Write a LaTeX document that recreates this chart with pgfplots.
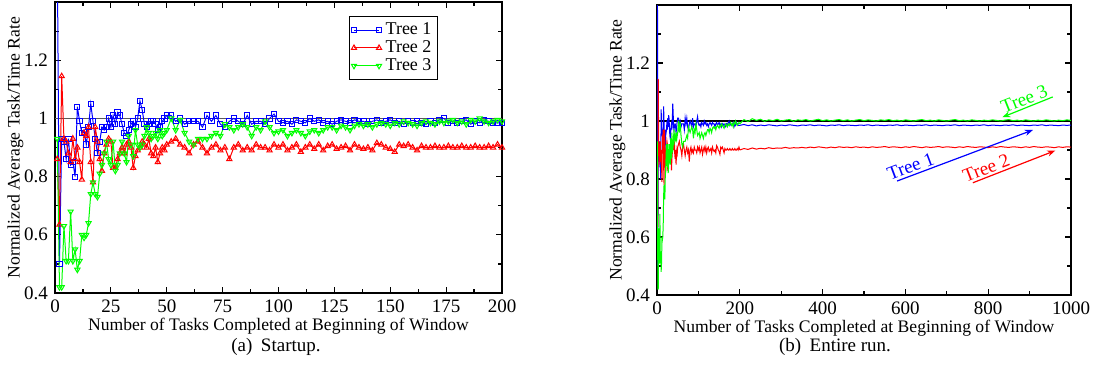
\documentclass[border=0pt]{standalone}
\usepackage{fontspec}
\setmainfont{Liberation Serif}
\usepackage{pgfplots}
\usepackage{pgfplotstable}
\pgfplotsset{compat=1.18}
\usetikzlibrary{arrows.meta}

\pgfplotstableread{
x y
1 1.60
2 0.50
3 0.93
4 0.92
5 0.86
6 0.93
7 0.84
8 0.85
9 0.80
10 1.04
11 0.99
12 0.95
13 0.96
14 0.91
15 0.97
16 1.05
17 0.99
18 0.93
19 0.88
20 0.92
21 0.97
22 0.96
23 0.97
24 1.00
25 0.97
26 1.01
27 0.98
28 1.02
29 1.01
30 0.98
31 0.95
32 0.94
33 0.96
34 0.98
35 0.99
36 0.97
37 1.00
38 1.06
39 1.03
40 0.98
41 0.97
42 0.98
43 0.99
44 0.99
45 0.98
46 0.96
47 0.97
48 0.99
49 1.00
50 1.01
52 1.01
54 0.99
56 1.00
58 0.98
60 0.99
62 0.99
64 0.99
66 0.97
68 1.01
70 0.99
72 1.01
74 0.98
76 0.97
78 0.99
80 1.00
82 0.99
84 0.98
86 1.01
88 0.98
90 0.99
92 0.99
94 0.98
96 1.00
98 1.015
100 0.99
102 0.985
104 0.99
106 0.98
108 0.995
110 0.99
112 0.985
114 1.00
116 0.99
118 0.995
120 0.985
122 0.99
124 0.98
126 0.99
128 0.995
130 0.99
132 0.985
134 0.995
136 0.99
138 0.99
140 0.98
142 0.99
144 0.995
146 0.985
148 0.99
150 0.995
152 0.985
154 0.99
156 0.98
158 0.99
160 0.985
162 0.99
164 0.985
166 0.98
168 0.99
170 0.985
172 0.995
174 1.00
176 0.985
178 0.99
180 0.985
182 0.99
184 0.995
186 0.98
188 0.99
190 0.985
192 0.995
194 0.99
196 0.985
198 0.985
200 0.985
}\treeA

\pgfplotstableread{
x y
1 0.86
2 0.635
3 1.145
4 0.93
5 0.92
6 0.88
7 0.85
8 0.93
9 0.86
10 0.90
11 0.85
12 0.79
13 0.95
14 0.94
15 0.97
16 0.85
17 0.78
18 0.97
19 0.92
20 0.86
21 0.82
22 0.88
23 0.91
24 0.93
25 0.92
26 0.83
27 0.83
28 0.86
29 0.88
30 0.90
31 0.88
32 0.91
33 0.92
34 0.90
35 0.83
36 0.87
37 0.89
38 0.90
39 0.92
40 0.91
41 0.90
42 0.93
43 0.88
44 0.87
45 0.90
46 0.85
47 0.88
48 0.90
49 0.89
50 0.91
52 0.92
54 0.93
56 0.91
58 0.90
60 0.88
62 0.91
64 0.92
66 0.90
68 0.88
70 0.90
72 0.91
74 0.89
76 0.90
78 0.86
80 0.90
82 0.91
84 0.89
86 0.90
88 0.89
90 0.91
92 0.90
94 0.90
96 0.89
98 0.91
100 0.90
102 0.91
104 0.89
106 0.90
108 0.91
110 0.885
112 0.90
114 0.91
116 0.895
118 0.91
120 0.89
122 0.905
124 0.91
126 0.895
128 0.90
130 0.905
132 0.89
134 0.91
136 0.90
138 0.895
140 0.90
142 0.89
144 0.915
146 0.91
148 0.90
150 0.895
152 0.885
154 0.91
156 0.905
158 0.91
160 0.90
162 0.89
164 0.905
166 0.90
168 0.90
170 0.905
172 0.90
174 0.90
176 0.905
178 0.90
180 0.90
182 0.905
184 0.90
186 0.90
188 0.905
190 0.90
192 0.90
194 0.905
196 0.90
198 0.91
200 0.90
}\treeB

\pgfplotstableread{
x y
1 0.93
2 0.42
3 0.42
4 0.63
5 0.51
6 0.51
7 0.68
8 0.51
9 0.55
10 0.48
11 0.51
12 0.60
13 0.59
14 0.60
15 0.64
16 0.74
17 0.78
18 0.74
19 0.73
20 0.81
21 0.84
22 0.88
23 0.92
24 0.86
25 0.84
26 0.92
27 0.82
28 0.84
29 0.88
30 0.92
31 0.88
32 0.85
33 0.94
34 0.91
35 0.87
36 0.96
37 0.91
38 0.90
39 0.91
40 0.94
41 0.97
42 0.95
43 0.93
44 0.94
45 0.95
46 0.93
47 0.96
48 0.94
49 0.95
50 0.96
52 1.00
54 0.96
56 0.995
58 0.95
60 0.92
62 0.91
64 0.93
66 0.93
68 0.93
70 0.94
72 0.95
74 0.94
76 0.98
78 0.97
80 0.96
82 0.97
84 0.98
86 0.97
88 0.94
90 0.97
92 0.96
94 0.99
96 0.97
98 0.95
100 0.955
102 0.96
104 0.94
106 0.95
108 0.96
110 0.95
112 0.94
114 0.955
116 0.96
118 0.95
120 0.96
122 0.97
124 0.97
126 0.96
128 0.975
130 0.97
132 0.96
134 0.975
136 0.98
138 0.975
140 0.98
142 0.97
144 0.98
146 0.985
148 0.98
150 0.975
152 0.985
154 0.98
156 0.99
158 0.985
160 0.98
162 0.975
164 0.985
166 0.99
168 0.985
170 0.98
172 0.99
174 0.985
176 0.99
178 0.995
180 0.985
182 0.99
184 0.98
186 0.995
188 0.99
190 1.00
192 0.99
194 0.985
196 0.99
198 0.995
200 0.99
}\treeC

\pgfplotstableread{
x y
200 0.985
210 0.988
220 0.984
230 0.987
240 0.983
250 0.986
260 0.984
270 0.987
280 0.985
290 0.983
300 0.986
310 0.984
320 0.987
330 0.985
340 0.983
350 0.986
360 0.985
370 0.987
380 0.984
390 0.986
400 0.985
410 0.983
420 0.986
430 0.985
440 0.987
450 0.984
460 0.986
470 0.985
480 0.984
490 0.986
500 0.985
510 0.987
520 0.984
530 0.986
540 0.985
550 0.984
560 0.986
570 0.985
580 0.987
590 0.984
600 0.986
610 0.985
620 0.984
630 0.986
640 0.985
650 0.987
660 0.984
670 0.986
680 0.985
690 0.984
700 0.986
710 0.985
720 0.987
730 0.984
740 0.986
750 0.985
760 0.984
770 0.986
780 0.985
790 0.987
800 0.984
810 0.986
820 0.985
830 0.984
840 0.986
850 0.985
860 0.987
870 0.984
880 0.986
890 0.985
900 0.984
910 0.986
920 0.985
930 0.987
940 0.984
950 0.986
960 0.985
970 0.984
980 0.986
990 0.985
1000 0.986
}\treeAext

\pgfplotstableread{
x y
200 0.90
210 0.905
220 0.902
230 0.907
240 0.903
250 0.906
260 0.904
270 0.908
280 0.905
290 0.907
300 0.906
310 0.909
320 0.906
330 0.908
340 0.907
350 0.909
360 0.907
370 0.910
380 0.908
390 0.911
400 0.909
410 0.907
420 0.910
430 0.908
440 0.911
450 0.909
460 0.910
470 0.908
480 0.911
490 0.909
500 0.910
510 0.908
520 0.911
530 0.909
540 0.910
550 0.912
560 0.909
570 0.911
580 0.910
590 0.908
600 0.911
610 0.909
620 0.912
630 0.910
640 0.908
650 0.911
660 0.909
670 0.910
680 0.912
690 0.909
700 0.911
710 0.910
720 0.908
730 0.911
740 0.909
750 0.912
760 0.910
770 0.909
780 0.911
790 0.910
800 0.908
810 0.911
820 0.909
830 0.912
840 0.910
850 0.909
860 0.911
870 0.910
880 0.908
890 0.911
900 0.909
910 0.912
920 0.910
930 0.909
940 0.911
950 0.910
960 0.908
970 0.911
980 0.909
990 0.911
1000 0.910
}\treeBext

\pgfplotstableread{
x y
200 0.99
210 1.005
220 0.998
230 1.008
240 1.002
250 1.006
260 0.999
270 1.004
280 1.001
290 1.006
300 1.000
310 1.003
320 1.005
330 0.999
340 1.004
350 1.002
360 1.005
370 1.000
380 1.003
390 1.006
400 1.001
410 1.004
420 1.000
430 1.003
440 1.005
450 1.001
460 1.004
470 1.000
480 1.003
490 1.005
500 1.001
510 1.004
520 1.002
530 1.000
540 1.004
550 1.002
560 1.005
570 1.001
580 1.003
590 1.000
600 1.004
610 1.002
620 1.000
630 1.003
640 1.005
650 1.001
660 1.003
670 1.000
680 1.004
690 1.002
700 1.000
710 1.003
720 1.005
730 1.001
740 1.003
750 1.000
760 1.004
770 1.002
780 1.000
790 1.003
800 1.001
810 1.004
820 1.002
830 1.000
840 1.003
850 1.005
860 1.001
870 1.003
880 1.000
890 1.004
900 1.002
910 1.000
920 1.003
930 1.001
940 1.004
950 1.002
960 1.000
970 1.003
980 1.001
990 1.004
1000 1.002
}\treeCext

\pgfplotsset{
  panel/.style={
    scale only axis,
    axis line style={line width=0.7pt},
    tick align=inside,
    major tick length=3pt,
    minor tick length=1.8pt,
    every tick/.style={black, line width=0.6pt},
    ymin=0.4, ymax=1.4,
    ytick={0.4,0.6,0.8,1,1.2},
    minor ytick={0.5,0.7,0.9,1.1,1.3},
    ticklabel style={font=\fontsize{9.5}{10}\selectfont},
    label style={font=\fontsize{8.8}{10}\selectfont},
    /pgf/number format/assume math mode=true,
    /pgf/number format/1000 sep={},
    ylabel={Normalized Average Task/Time Rate},
    xlabel={Number of Tasks Completed at Beginning of Window},
    xlabel style={yshift=4.5pt},
    ylabel style={yshift=-6.5pt},
  },
  legend image code/.code={%
    \draw[mark repeat=2,mark phase=1,#1]
      plot coordinates {(0cm,0cm) (0.22cm,0cm) (0.44cm,0cm)};},
}

\begin{document}
\begin{tikzpicture}
\useasboundingbox (0,0) rectangle (547pt,-187.5pt);

\begin{axis}[panel,
  at={(27.5pt,-146.5pt)}, anchor=south west,
  width=223.5pt, height=145.5pt,
  xmin=0, xmax=200,
  xtick={0,25,...,200}, minor x tick num=1,
  legend style={at={(axis description cs:0.857,0.952)}, anchor=north east,
    font=\fontsize{9}{9}\selectfont, draw=black, line width=0.6pt,
    inner sep=1pt, row sep=-2.5pt, legend cell align=left,
    nodes={inner xsep=2pt}},
]
\addplot[black!65, line width=0.9pt, forget plot] coordinates {(0,1) (200,1)};
\addplot[blue, line width=0.5pt, mark=square, mark size=1.3pt, mark options={line width=0.5pt}] table[x=x,y=y] {\treeA};
\addplot[red, line width=0.5pt, mark=triangle, mark size=1.5pt, mark options={line width=0.5pt}] table[x=x,y=y] {\treeB};
\addplot[green, line width=0.5pt, mark=triangle, mark size=1.5pt, mark options={line width=0.5pt, rotate=180}] table[x=x,y=y] {\treeC};
\legend{Tree 1, Tree 2, Tree 3}
\end{axis}

\begin{axis}[panel,
  at={(328.5pt,-147.5pt)}, anchor=south west,
  width=207pt, height=145pt,
  xmin=0, xmax=1000,
  xtick={0,200,...,1000}, minor x tick num=1,
]
\addplot[black, line width=0.8pt] coordinates {(0,1) (1000,1)};
\addplot[blue, line width=0.5pt] table[x=x,y=y] {\treeA};
\addplot[blue, line width=0.5pt] table[x=x,y=y] {\treeAext};
\addplot[red, line width=0.5pt] table[x=x,y=y] {\treeB};
\addplot[red, line width=0.5pt] table[x=x,y=y] {\treeBext};
\addplot[green, line width=0.5pt] table[x=x,y=y] {\treeC};
\addplot[green, line width=0.5pt] table[x=x,y=y] {\treeCext};
\draw[blue, line width=0.6pt, -{Stealth[length=4pt,width=3pt]}] (axis cs:580,0.793) -- (axis cs:908,0.969);
\node[blue, rotate=20.6, anchor=south, inner sep=1pt, font=\fontsize{9.5}{10}\selectfont] at (axis cs:620,0.815) {Tree 1};
\draw[red, line width=0.6pt, -{Stealth[length=4pt,width=3pt]}] (axis cs:763,0.787) -- (axis cs:962,0.898);
\node[red, rotate=21.2, anchor=south, inner sep=1pt, font=\fontsize{9.5}{10}\selectfont] at (axis cs:803,0.81) {Tree 2};
\draw[green, line width=0.6pt, -{Stealth[length=4pt,width=3pt]}] (axis cs:956,1.083) -- (axis cs:834,1.013);
\node[green, rotate=21.9, anchor=south, inner sep=1pt, font=\fontsize{9.5}{10}\selectfont] at (axis cs:895,1.048) {Tree 3};
\end{axis}

\node[font=\fontsize{9.5}{10}\selectfont] at (138pt,-173.5pt) {(a)\hspace{0.45em}Startup.};
\node[font=\fontsize{9.5}{10}\selectfont] at (417.5pt,-173.5pt) {(b)\hspace{0.45em}Entire run.};
\end{tikzpicture}
\end{document}
